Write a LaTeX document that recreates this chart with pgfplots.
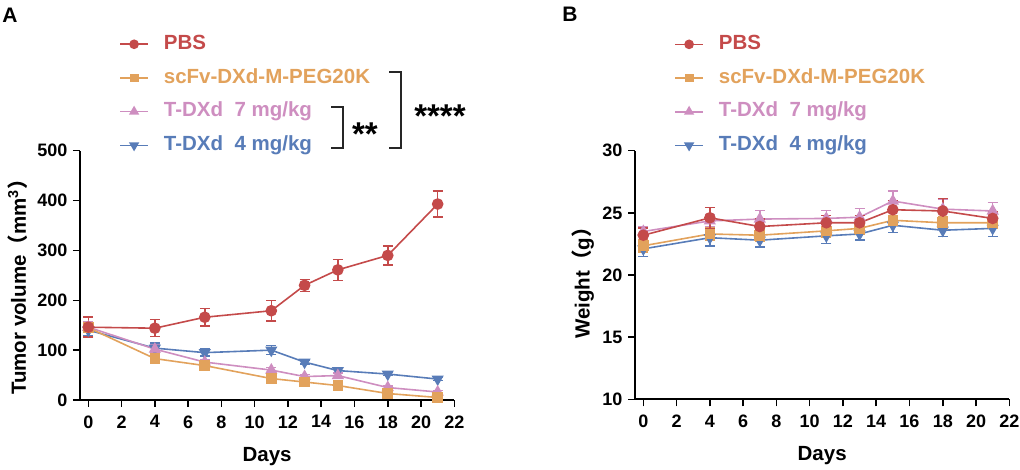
\documentclass[border=0pt]{standalone}
\usepackage{fontspec}
\setmainfont{Liberation Sans}
\newfontfamily\cjk{Noto Sans CJK SC}
\usepackage{pgfplots}
\pgfplotsset{compat=1.18}
\definecolor{cpbs}{RGB}{196,74,74}
\definecolor{cscf}{RGB}{226,162,92}
\definecolor{cd7}{RGB}{206,142,192}
\definecolor{cd4}{RGB}{88,124,184}

\pgfplotsset{
 myaxis/.style={
  scale only axis, width=374.3pt, height=249.3pt,
  xmin=-0.5, xmax=22, xtick={0,2,...,22},
  axis x line*=bottom, axis y line*=left,
  axis line style={line width=1.7pt, -},
  tick align=outside, major tick length=7pt,
  every tick/.style={line width=1.5pt, black},
  /pgf/number format/assume math mode=true,
  ticklabel style={font=\fontsize{18}{18}\selectfont\bfseries},
  xticklabel style={yshift=-5pt},
  yticklabel style={xshift=-2pt},
  label style={font=\fontsize{20.5}{21}\selectfont\bfseries},
  xlabel=Days,
  xlabel style={at={(axis description cs:0.5,-0.225)}, anchor=center},
  error bars/y dir=both, error bars/y explicit,
  error bars/error bar style={line width=1.5pt},
  error bars/error mark options={rotate=90, mark size=5pt, line width=1.5pt},
  legend image code/.code={\draw[mark repeat=2,mark phase=2, every mark/.append style={scale=0.8}] plot coordinates {(0pt,0pt)(14pt,0pt)(28pt,0pt)};},
  legend cell align=left, reverse legend,
  legend style={draw=none, fill=none, inner sep=0pt, outer sep=0pt, anchor=north west,
    row sep=16.2pt, column sep=15pt,
    nodes={inner sep=0pt, text height=14pt, text depth=3.5pt, font=\fontsize{20.5}{21}\selectfont\bfseries}},
  clip=false,
 },
 sPBS/.style={cpbs, line width=1.6pt, mark=*, mark size=5pt, mark options={solid, fill=cpbs}},
 sSCF/.style={cscf, line width=1.6pt, mark=square*, mark size=4.5pt, mark options={solid, fill=cscf}},
 sD7/.style={cd7, line width=1.6pt, mark=triangle*, mark size=5.5pt, mark options={solid, fill=cd7}},
 sD4/.style={cd4, line width=1.6pt, mark=triangle*, mark size=5.5pt, mark options={solid, fill=cd4, rotate=180}},
}

\begin{document}
\begin{tikzpicture}
\useasboundingbox (0pt,0pt) rectangle (1020pt,470pt);

% Panel A
\begin{axis}[myaxis, at={(80pt,70pt)}, anchor=south west,
  ymin=0, ymax=500, ytick={0,100,...,500},
  ylabel={Tumor volume{\cjk\bfseries （}mm\textsuperscript{3}{\cjk\bfseries ）}},
  ylabel style={at={(axis description cs:-0.1657,0.473)}, anchor=center},
  legend style={at={(axis description cs:0.105,1.462)}}]
\addplot[sD4] table[x=x,y=y,y error=e] {
x y e
0 140 12
4 104 10
7 95 7
11 100 9
13 76 4
15 59 4
18 52 3
21 42 3
};
\addlegendentry{\textcolor{cd4}{T-DXd\ \ 4 mg/kg}}
\addplot[sD7] table[x=x,y=y,y error=e] {
x y e
0 146 10
4 102 8
7 76 5
11 60 5
13 47 4
15 49 5
18 25 3
21 16 3
};
\addlegendentry{\textcolor{cd7}{T-DXd\ \ 7 mg/kg}}
\addplot[sSCF] table[x=x,y=y,y error=e] {
x y e
0 145 8
4 83 6
7 69 5
11 43 5
13 36 4
15 29 4
18 13 3
21 5 2
};
\addlegendentry{\textcolor{cscf}{scFv-DXd-M-PEG20K}}
\addplot[sPBS] table[x=x,y=y,y error=e] {
x y e
0 146 20
4 144 17
7 166 18
11 179 21
13 230 12
15 261 21
18 290 19
21 393 26
};
\addlegendentry{\textcolor{cpbs}{PBS}}
\end{axis}

% Panel B
\begin{axis}[myaxis, at={(635pt,70.7pt)}, anchor=south west, height=248.6pt,
  ymin=10, ymax=30, ytick={10,15,...,30},
  ylabel={Weight{\cjk\bfseries （}g{\cjk\bfseries ）}},
  ylabel style={at={(axis description cs:-0.139,0.488)}, anchor=center},
  legend style={at={(axis description cs:0.105,1.463)}}]
\addplot[sD4] table[x=x,y=y,y error=e] {
x y e
0 22.1 0.6
4 23.0 0.65
7 22.8 0.55
11 23.15 0.6
13 23.3 0.5
15 24.0 0.6
18 23.6 0.5
21 23.75 0.65
};
\addlegendentry{\textcolor{cd4}{T-DXd\ \ 4 mg/kg}}
\addplot[sD7] table[x=x,y=y,y error=e] {
x y e
0 23.5 0.35
4 24.35 0.5
7 24.5 0.7
11 24.55 0.65
13 24.65 0.7
15 25.95 0.8
18 25.3 0.8
21 25.15 0.7
};
\addlegendentry{\textcolor{cd7}{T-DXd\ \ 7 mg/kg}}
\addplot[sSCF] table[x=x,y=y,y error=e] {
x y e
0 22.35 0.5
4 23.3 0.5
7 23.2 0.5
11 23.55 0.5
13 23.75 0.5
15 24.4 0.4
18 24.2 0.5
21 24.2 0.4
};
\addlegendentry{\textcolor{cscf}{scFv-DXd-M-PEG20K}}
\addplot[sPBS] table[x=x,y=y,y error=e] {
x y e
0 23.2 0.6
4 24.6 0.85
7 23.9 0.6
11 24.2 0.6
13 24.2 0.6
15 25.25 0.75
18 25.15 1.0
21 24.55 0.5
};
\addlegendentry{\textcolor{cpbs}{PBS}}
\end{axis}

% panel letters
\node[font=\fontsize{21}{21}\selectfont\bfseries] at (10pt,455pt) {A};
\node[font=\fontsize{21}{21}\selectfont\bfseries] at (570pt,456pt) {B};

% significance brackets
\draw[line width=1.4pt, black!85] (389pt,398pt) -- (401pt,398pt) -- (401pt,322pt) -- (389pt,322pt);
\draw[line width=1.4pt, black!85] (331pt,363pt) -- (343pt,363pt) -- (343pt,322pt) -- (331pt,322pt);
\node[font=\fontsize{33}{33}\selectfont\bfseries, anchor=base] at (440pt,342pt) {****};
\node[font=\fontsize{33}{33}\selectfont\bfseries, anchor=base] at (365pt,324pt) {**};
\end{tikzpicture}
\end{document}
